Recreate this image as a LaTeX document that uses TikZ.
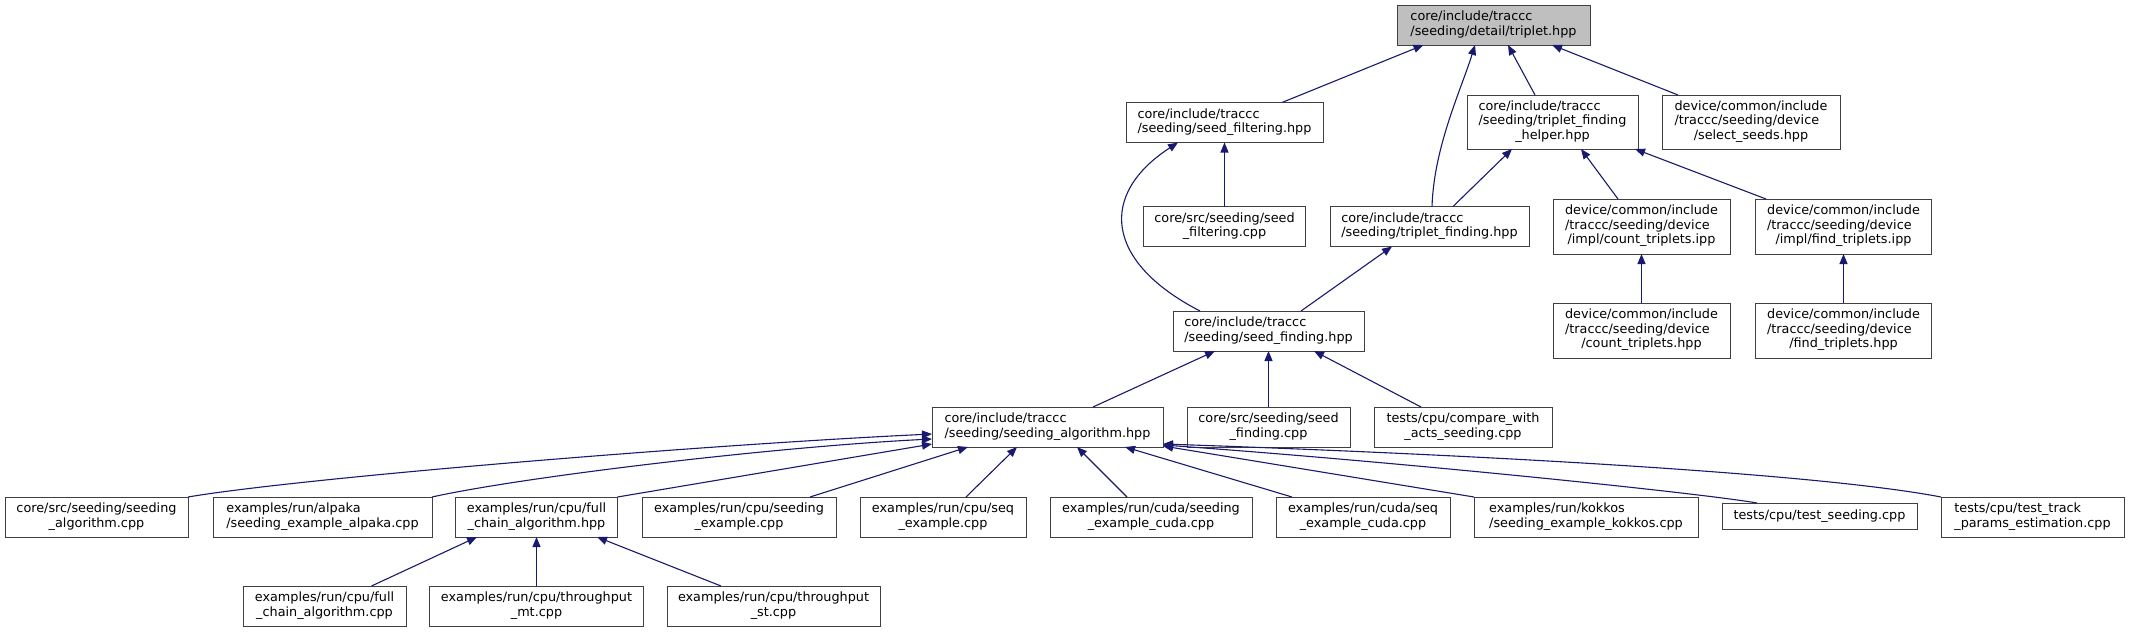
\documentclass[tikz,border=0pt]{standalone}
\usepackage{fontspec}
\setmainfont{DejaVu Sans}
\usetikzlibrary{arrows.meta}
\definecolor{edgeblue}{HTML}{191970}
\definecolor{boxgray}{HTML}{404040}
\definecolor{rootgray}{HTML}{BFBFBF}
\newcommand{\nodefont}{\fontsize{12.8pt}{14.5pt}\selectfont}
\newcommand{\txtII}[2]{\begin{tabular}{@{}l@{}}#1\\\multicolumn{1}{@{}c@{}}{#2}\end{tabular}}
\newcommand{\txtIII}[3]{\begin{tabular}{@{}l@{}}#1\\#2\\\multicolumn{1}{@{}c@{}}{#3}\end{tabular}}
\tikzset{
  box/.style={draw=boxgray, line width=1pt, fill=white, inner sep=0pt, outer sep=0pt, font=\nodefont, text=black, rectangle},
  rootbox/.style={box, fill=rootgray},
  edge/.style={draw=edgeblue, line width=1.1pt, -{Triangle[length=10pt,width=8pt]}, fill=none},
}
\begin{document}
\begin{tikzpicture}[x=1pt,y=-1pt]
\path[fill=white] (0,0) rectangle (2129,632);
\useasboundingbox (0,0) rectangle (2129,632);

% row 0
\node[rootbox, minimum width=193pt, minimum height=40pt] (trip) at (1493.5,25) {\txtII{core/include/traccc}{/seeding/detail/triplet.hpp}};
% row 1
\node[box, minimum width=197pt, minimum height=40pt] (sfilt) at (1224.5,122.5) {\txtII{core/include/traccc}{/seeding/seed\_filtering.hpp}};
\node[box, minimum width=171pt, minimum height=54pt] (helper) at (1552.5,122) {\txtIII{core/include/traccc}{/seeding/triplet\_finding}{\_helper.hpp}};
\node[box, minimum width=178pt, minimum height=54pt] (select) at (1751,122) {\txtIII{device/common/include}{/traccc/seeding/device}{/select\_seeds.hpp}};
% row 2
\node[box, minimum width=162pt, minimum height=40pt] (sfiltcpp) at (1224.5,226.5) {\txtII{core/src/seeding/seed}{\_filtering.cpp}};
\node[box, minimum width=199pt, minimum height=40pt] (tfind) at (1429.5,226.5) {\txtII{core/include/traccc}{/seeding/triplet\_finding.hpp}};
\node[box, minimum width=177pt, minimum height=55pt] (countipp) at (1641.5,226.5) {\txtIII{device/common/include}{/traccc/seeding/device}{/impl/count\_triplets.ipp}};
\node[box, minimum width=176pt, minimum height=55pt] (findipp) at (1843.5,226.5) {\txtIII{device/common/include}{/traccc/seeding/device}{/impl/find\_triplets.ipp}};
% row 3
\node[box, minimum width=191pt, minimum height=40pt] (sfind) at (1268.5,331) {\txtII{core/include/traccc}{/seeding/seed\_finding.hpp}};
\node[box, minimum width=177pt, minimum height=55pt] (counthpp) at (1641.5,330.5) {\txtIII{device/common/include}{/traccc/seeding/device}{/count\_triplets.hpp}};
\node[box, minimum width=176pt, minimum height=55pt] (findhpp) at (1843.5,330.5) {\txtIII{device/common/include}{/traccc/seeding/device}{/find\_triplets.hpp}};
% row 4
\node[box, minimum width=231pt, minimum height=40pt] (salg) at (1047.5,427) {\txtII{core/include/traccc}{/seeding/seeding\_algorithm.hpp}};
\node[box, minimum width=163pt, minimum height=40pt] (sfindcpp) at (1268.5,427) {\txtII{core/src/seeding/seed}{\_finding.cpp}};
\node[box, minimum width=178pt, minimum height=40pt] (compare) at (1463,427) {\txtII{tests/cpu/compare\_with}{\_acts\_seeding.cpp}};
% row 5
\node[box, minimum width=183pt, minimum height=40pt] (salgcpp) at (96.5,517) {\txtII{core/src/seeding/seeding}{\_algorithm.cpp}};
\node[box, minimum width=219pt, minimum height=40pt] (alpaka) at (322.5,517) {\txtII{examples/run/alpaka}{/seeding\_example\_alpaka.cpp}};
\node[box, minimum width=162pt, minimum height=40pt] (fchpp) at (536.5,517) {\txtII{examples/run/cpu/full}{\_chain\_algorithm.hpp}};
\node[box, minimum width=194pt, minimum height=40pt] (cpuseed) at (739,517) {\txtII{examples/run/cpu/seeding}{\_example.cpp}};
\node[box, minimum width=166pt, minimum height=40pt] (seq) at (943,517) {\txtII{examples/run/cpu/seq}{\_example.cpp}};
\node[box, minimum width=202pt, minimum height=40pt] (cudaseed) at (1151,517) {\txtII{examples/run/cuda/seeding}{\_example\_cuda.cpp}};
\node[box, minimum width=174pt, minimum height=40pt] (cudaseq) at (1363,517) {\txtII{examples/run/cuda/seq}{\_example\_cuda.cpp}};
\node[box, minimum width=224pt, minimum height=40pt] (kokkos) at (1586,517) {\txtII{examples/run/kokkos}{/seeding\_example\_kokkos.cpp}};
\node[box, minimum width=195pt, minimum height=26pt] (tseed) at (1819.5,516) {tests/cpu/test\_seeding.cpp};
\node[box, minimum width=183pt, minimum height=40pt] (ttrack) at (2032.5,517) {\txtII{tests/cpu/test\_track}{\_params\_estimation.cpp}};
% row 6
\node[box, minimum width=163pt, minimum height=40pt] (fccpp) at (324.5,606) {\txtII{examples/run/cpu/full}{\_chain\_algorithm.cpp}};
\node[box, minimum width=214pt, minimum height=40pt] (tmt) at (536.5,606) {\txtII{examples/run/cpu/throughput}{\_mt.cpp}};
\node[box, minimum width=213pt, minimum height=40pt] (tst) at (773.5,606) {\txtII{examples/run/cpu/throughput}{\_st.cpp}};

% edges
\draw[edge] ([xshift=57.5pt]sfilt.north) -- ([xshift=-70pt]trip.south);
\draw[edge] ([xshift=2.5pt]tfind.north) .. controls +(2,-60) and +(-14,45) .. ([xshift=-18.5pt]trip.south);
\draw[edge] ([xshift=-17.5pt]helper.north) -- ([xshift=14.5pt]trip.south);
\draw[edge] ([xshift=-73pt]select.north) -- ([xshift=58.5pt]trip.south);
\draw[edge] (sfiltcpp.north) -- (sfilt.south);
\draw[edge] ([xshift=-68.5pt]sfind.north) .. controls +(-95,-49) and +(-80,52) .. ([xshift=-46.5pt]sfilt.south);
\draw[edge] ([xshift=23.5pt]tfind.north) -- ([xshift=-40.5pt]helper.south);
\draw[edge] ([xshift=-23.5pt]countipp.north) -- ([xshift=28.5pt]helper.south);
\draw[edge] ([xshift=-77.5pt]findipp.north) -- ([xshift=-3pt]helper.south east);
\draw[edge] (counthpp.north) -- (countipp.south);
\draw[edge] (findhpp.north) -- (findipp.south);
\draw[edge] ([xshift=32.5pt]sfind.north) -- ([xshift=-37.5pt]tfind.south);
\draw[edge] ([xshift=45.5pt]salg.north) -- ([xshift=-53.5pt]sfind.south);
\draw[edge] (sfindcpp.north) -- (sfind.south);
\draw[edge] ([xshift=-42pt]compare.north) -- ([xshift=45.5pt]sfind.south);
\draw[edge] (salgcpp.north east) .. controls +(112,-19) and +(-232,11) .. ([yshift=-7pt]salg.west);
\draw[edge] (alpaka.north east) .. controls +(90,-20) and +(-160,8) .. ([yshift=-12pt]salg.west);
\draw[edge] (fchpp.north east) -- ([yshift=-17pt]salg.west);
\draw[edge] ([xshift=71pt]cpuseed.north) -- ([xshift=-79.5pt]salg.south);
\draw[edge] ([xshift=23pt]seq.north) -- ([xshift=-30.5pt]salg.south);
\draw[edge] ([xshift=-24pt]cudaseed.north) -- ([xshift=29.5pt]salg.south);
\draw[edge] ([xshift=-71pt]cudaseq.north) -- ([xshift=77.5pt]salg.south);
\draw[edge] (kokkos.north west) -- ([yshift=-19pt]salg.east);
\draw[edge] ([xshift=-62.5pt]tseed.north) .. controls +(-57,-10) and +(237,17) .. ([yshift=-18pt]salg.east);
\draw[edge] (ttrack.north west) .. controls +(-141,-27) and +(237,8) .. ([yshift=-17pt]salg.east);
\draw[edge] ([xshift=47pt]fccpp.north) -- ([xshift=-59.5pt]fchpp.south);
\draw[edge] (tmt.north) -- (fchpp.south);
\draw[edge] ([xshift=-52.5pt]tst.north) -- ([xshift=60.5pt]fchpp.south);
\end{tikzpicture}
\end{document}
